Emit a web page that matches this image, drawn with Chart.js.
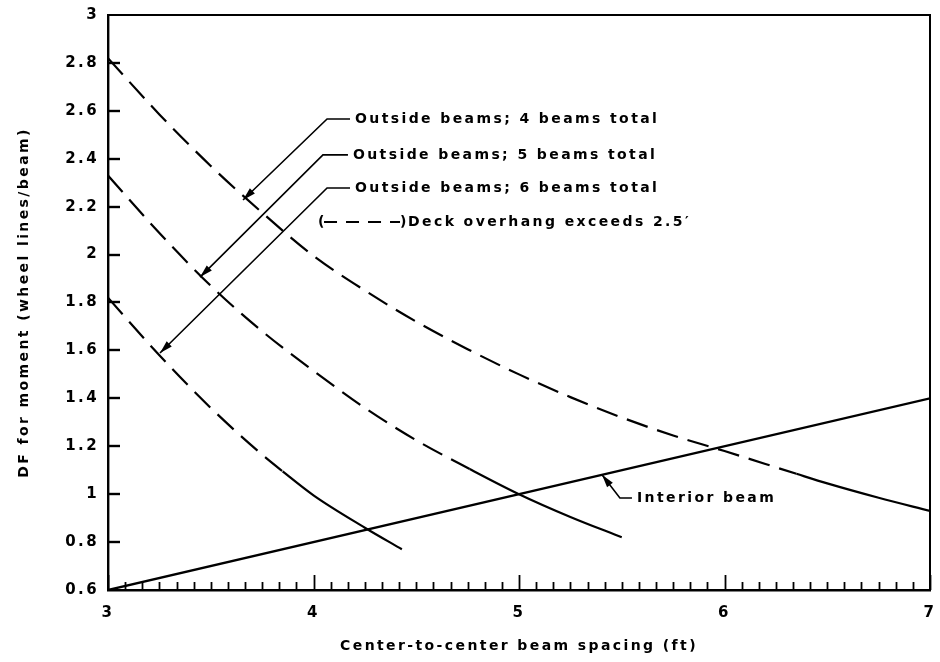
<!DOCTYPE html>
<html>
<head>
<meta charset="utf-8">
<title>DF for moment vs beam spacing</title>
<script src="https://cdn.jsdelivr.net/npm/chart.js@4/dist/chart.umd.min.js"></script>
<style>
  html, body { margin: 0; padding: 0; background: #fff; }
  canvas { display: block; }
</style>
</head>
<body>
<canvas id="chart" width="940" height="662"></canvas>
<script>
// Center-to-center beam spacing (ft) and distribution factor (wheel lines/beam)
const beams4Spacing = [3.0, 3.25, 3.5, 3.75, 4.0, 4.25, 4.5, 4.75, 5.0, 5.25, 5.5, 5.75, 6.0, 6.35, 6.5, 6.75, 7.0];
const beams4DF      = [2.82, 2.585, 2.37, 2.175, 1.995, 1.85, 1.72, 1.605, 1.50, 1.405, 1.32, 1.245, 1.18, 1.085, 1.045, 0.985, 0.93];
const beams4SolidFrom = 6.35;

const beams5Spacing = [3.0, 3.25, 3.5, 3.75, 4.0, 4.25, 4.5, 4.76, 5.0, 5.25, 5.5];
const beams5DF      = [2.33, 2.09, 1.87, 1.68, 1.515, 1.36, 1.225, 1.105, 1.00, 0.905, 0.82];
const beams5SolidFrom = 4.76;

const beams6Spacing = [3.0, 3.25, 3.5, 3.75, 3.85, 4.0, 4.25, 4.43];
const beams6DF      = [1.82, 1.58, 1.36, 1.165, 1.095, 0.995, 0.86, 0.77];
const beams6SolidFrom = 3.85;

const interiorSpacing = [3.0, 7.0];
const interiorDF      = [0.6, 1.4];

const xTickLabels = ['3', '4', '5', '6', '7'];
const yTickLabels = ['0.6', '0.8', '1', '1.2', '1.4', '1.6', '1.8', '2', '2.2', '2.4', '2.6', '2.8', '3'];

const FONT = '"DejaVu Sans", "Liberation Sans", sans-serif';
const SPACING = '2.4px';

function toPoints(xs, ys) {
  return xs.map((x, i) => ({ x, y: ys[i] }));
}

function curve(label, xs, ys, solidFrom) {
  return {
    label,
    data: toPoints(xs, ys),
    showLine: true,
    borderColor: '#000',
    borderWidth: 2.2,
    pointRadius: 0,
    cubicInterpolationMode: 'monotone',
    borderDash: [],
    segment: {
      borderDash: ctx => (ctx.p0.parsed.x < solidFrom - 1e-6 ? [22, 10] : undefined)
    }
  };
}

// Callouts placed in data units
const callouts = [
  { text: 'Outside beams; 4 beams total', textAt: [4.202, 2.566], elbow: [4.066, 2.566], tip: [3.657, 2.228] },
  { text: 'Outside beams; 5 beams total', textAt: [4.192, 2.416], elbow: [4.046, 2.416], tip: [3.448, 1.906] },
  { text: 'Outside beams; 6 beams total', textAt: [4.202, 2.278], elbow: [4.066, 2.278], tip: [3.253, 1.589] },
  { text: 'Interior beam',                textAt: [5.574, 0.984], elbow: [5.491, 0.984], tip: [5.404, 1.081] }
];
const overhangKey = { text: 'Deck overhang exceeds 2.5\u2032', at: [4.022, 2.136] };

function arrowHead(ctx, fx, fy, tx, ty) {
  const ang = Math.atan2(ty - fy, tx - fx);
  const len = 13, half = 3.6;
  ctx.beginPath();
  ctx.moveTo(tx, ty);
  ctx.lineTo(tx - len * Math.cos(ang) + half * Math.sin(ang), ty - len * Math.sin(ang) - half * Math.cos(ang));
  ctx.lineTo(tx - len * Math.cos(ang) - half * Math.sin(ang), ty - len * Math.sin(ang) + half * Math.cos(ang));
  ctx.closePath();
  ctx.fill();
}

const decor = {
  id: 'decor',
  beforeDraw(chart) {
    chart.ctx.letterSpacing = SPACING;
  },
  afterDatasetsDraw(chart) {
    const { ctx, chartArea: a, scales: { x, y } } = chart;
    ctx.save();
    ctx.strokeStyle = '#000';
    ctx.fillStyle = '#000';

    // top and right frame
    ctx.lineWidth = 2;
    ctx.beginPath();
    ctx.moveTo(a.left, a.top);
    ctx.lineTo(a.right, a.top);
    ctx.lineTo(a.right, a.bottom);
    ctx.stroke();

    // inch ticks along the spacing axis, taller at whole feet
    ctx.lineWidth = 1.8;
    for (let k = 0; k <= 48; k++) {
      const px = Math.round(x.getPixelForValue(3 + k / 12)) + 0.5;
      const len = k % 12 === 0 ? 15 : 8;
      ctx.beginPath();
      ctx.moveTo(px, a.bottom);
      ctx.lineTo(px, a.bottom - len);
      ctx.stroke();
    }
    // DF ticks, pointing into the plot
    ctx.lineWidth = 2.4;
    for (let k = 1; k < yTickLabels.length - 1; k++) {
      const py = Math.round(y.getPixelForValue(parseFloat(yTickLabels[k])));
      ctx.beginPath();
      ctx.moveTo(a.left, py);
      ctx.lineTo(a.left + 12, py);
      ctx.stroke();
    }

    // callouts with leaders
    ctx.font = 'bold 14px ' + FONT;
    ctx.letterSpacing = SPACING;
    ctx.textBaseline = 'middle';
    ctx.textAlign = 'left';
    ctx.lineWidth = 1.6;
    callouts.forEach(c => {
      const tx = x.getPixelForValue(c.textAt[0]), ty = y.getPixelForValue(c.textAt[1]);
      const ex = x.getPixelForValue(c.elbow[0]), ey = y.getPixelForValue(c.elbow[1]);
      const px = x.getPixelForValue(c.tip[0]), py = y.getPixelForValue(c.tip[1]);
      ctx.beginPath();
      ctx.moveTo(tx - 5, ey);
      ctx.lineTo(ex, ey);
      ctx.lineTo(px, py);
      ctx.stroke();
      arrowHead(ctx, ex, ey, px, py);
      ctx.fillText(c.text, tx, ty);
    });

    // dashed-line key
    const kx = x.getPixelForValue(overhangKey.at[0]);
    const ky = y.getPixelForValue(overhangKey.at[1]);
    ctx.fillText('(', kx, ky);
    ctx.lineWidth = 2;
    ctx.setLineDash([13, 9]);
    ctx.beginPath();
    ctx.moveTo(kx + 6, ky);
    ctx.lineTo(kx + 82, ky);
    ctx.stroke();
    ctx.setLineDash([]);
    ctx.fillText(')', kx + 82, ky);
    ctx.fillText(overhangKey.text, kx + 90, ky);

    ctx.restore();
  }
};

new Chart(document.getElementById('chart'), {
  type: 'scatter',
  data: {
    datasets: [
      curve('Outside beams; 4 beams total', beams4Spacing, beams4DF, beams4SolidFrom),
      curve('Outside beams; 5 beams total', beams5Spacing, beams5DF, beams5SolidFrom),
      curve('Outside beams; 6 beams total', beams6Spacing, beams6DF, beams6SolidFrom),
      {
        label: 'Interior beam',
        data: toPoints(interiorSpacing, interiorDF),
        showLine: true,
        borderColor: '#000',
        borderWidth: 2.4,
        pointRadius: 0
      }
    ]
  },
  options: {
    responsive: false,
    animation: false,
    devicePixelRatio: 1,
    layout: { padding: { top: 15, right: 10, bottom: 0, left: 0 } },
    plugins: {
      legend: { display: false },
      tooltip: { enabled: false }
    },
    scales: {
      x: {
        type: 'linear',
        min: 3,
        max: 7,
        afterFit: s => { s.height = 72; s.paddingLeft = 0; s.paddingRight = 0; },
        border: { display: true, color: '#000', width: 2.4 },
        grid: { display: false, drawTicks: false },
        ticks: {
          stepSize: 1,
          autoSkip: false,
          padding: 14,
          color: '#000',
          font: { family: FONT, size: 15, weight: 'bold' },
          callback: (v, i) => xTickLabels[i]
        },
        title: {
          display: true,
          text: 'Center-to-center beam spacing (ft)',
          color: '#000',
          font: { family: FONT, size: 14, weight: 'bold' },
          padding: { top: 0, bottom: 7 }
        }
      },
      y: {
        type: 'linear',
        min: 0.6,
        max: 3,
        afterFit: s => { s.width = 108; s.paddingTop = 0; s.paddingBottom = 0; },
        border: { display: true, color: '#000', width: 2.4 },
        grid: { display: false, drawTicks: false },
        ticks: {
          stepSize: 0.2,
          autoSkip: false,
          padding: 9,
          color: '#000',
          font: { family: FONT, size: 15, weight: 'bold' },
          callback: (v, i) => yTickLabels[i]
        },
        title: {
          display: true,
          text: 'DF for moment (wheel lines/beam)',
          color: '#000',
          font: { family: FONT, size: 14, weight: 'bold' },
          padding: { top: 16, bottom: 0 }
        }
      }
    }
  },
  plugins: [decor]
});
</script>
</body>
</html>
